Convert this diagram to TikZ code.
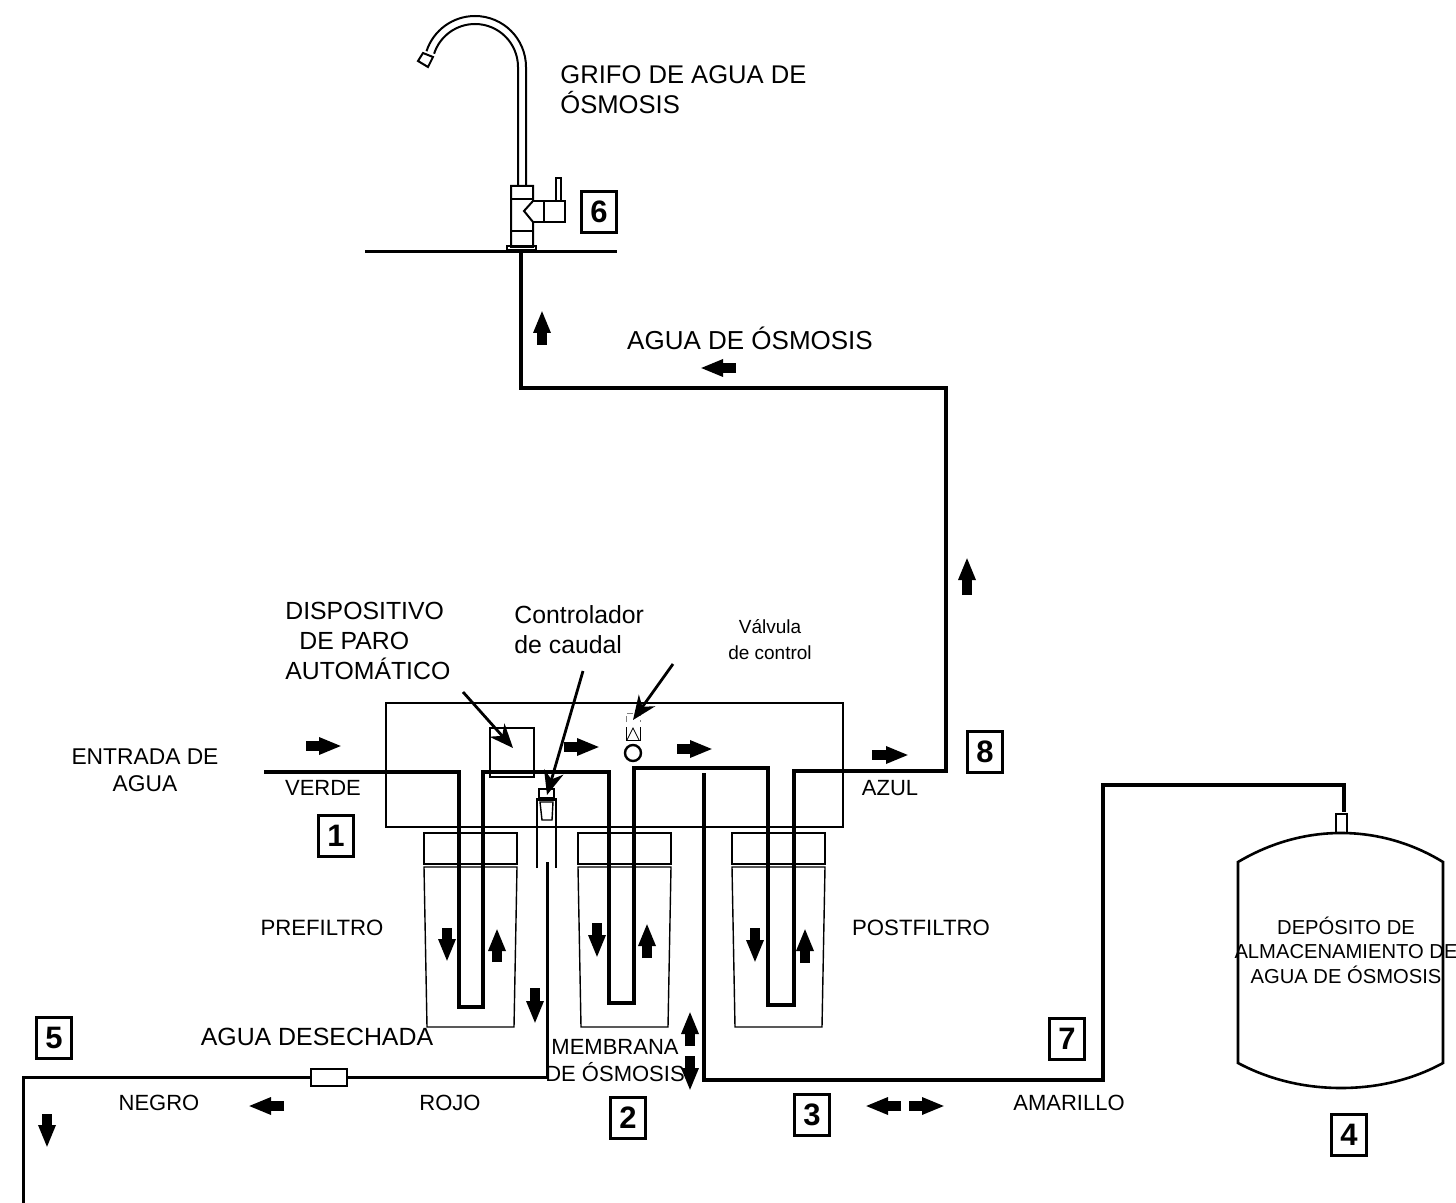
\documentclass[tikz,border=0pt]{standalone}
\usepackage{fontspec}
\setmainfont{Liberation Sans}
\usetikzlibrary{arrows.meta}
\tikzset{
  pipe/.style={line width=2pt,line join=miter},
  waste/.style={line width=1.5pt},
  thinline/.style={line width=0.7pt},
  faucet/.style={line width=1pt},
  flow/.style={line width=4.6pt,-{Triangle[length=11.5pt,width=8pt]}},
  callout/.style={line width=1.4pt,-{Stealth[length=12pt,width=10pt]}},
  numbox/.style={draw,line width=1.1pt,inner sep=0pt,minimum width=17.5pt,minimum height=20.5pt,font=\fontsize{15.5}{16}\selectfont\bfseries},
  txt/.style={inner sep=0pt,align=center,font=\fontsize{#1}{#1}\selectfont},
}
\begin{document}
\begin{tikzpicture}[x=0.5pt,y=-0.5pt]
    \useasboundingbox (0,0) rectangle (1456,1203);
    % faucet
    \draw[faucet] (518,186) -- (518,67) arc (0:-162:43);
    \draw[faucet] (526,186) -- (526,67) arc (0:-162:51);
    \draw[faucet] (418,61) -- (423,53) -- (433,57) -- (428,67) -- cycle;
    \draw[faucet] (533,201) -- (533,186) -- (511,186) -- (511,247) -- (533,247) -- (533,222) -- (524,211) -- cycle;
    \draw[faucet] (511,199) -- (533,199);
    \draw[faucet] (511,231) -- (533,231);
    \draw[faucet] (533,201) -- (565,201) -- (565,222) -- (533,222);
    \draw[faucet] (544,201) -- (544,222);
    \draw[faucet] (556,201) -- (556,178) -- (561,178) -- (561,201);
    \draw[faucet] (507,246) rectangle (536,250);
    \draw[line width=1.5pt] (365,252) -- (617,252);
    % housing and filters
    \draw[thinline] (386,703) rectangle (843,827);
    \foreach \fx in {424,578,732} {
      \draw[thinline] (\fx,833) rectangle (\fx+93,864);
      \draw[thinline] (\fx,867) -- (\fx+93,867) -- (\fx+90,1027) -- (\fx+3,1027) -- cycle;
    }
    % shut-off box, flow controller, check valve
    \draw[thinline] (490,728) rectangle (534,777);
    \draw[thinline] (539,789) rectangle (554,798);
    \draw[line width=1.1pt] (537,868) -- (537,799.5) -- (556,799.5) -- (556,868);
    \draw[thinline] (540,802) -- (553,802) -- (552,820) -- (542,820) -- cycle;
    \draw[line width=0.5pt,gray,densely dashed] (626,722) -- (626,713) -- (640,713) -- (640,722);
    \draw[line width=0.4pt] (626,727) -- (626,740) -- (640,740) -- (640,727);
    \draw[line width=0.4pt] (627,740) -- (633,728) -- (639,740);
    \draw[line width=1.2pt] (633,753) circle (8);
    % water lines
    \draw[pipe] (264,772) -- (459,772) -- (459,1007) -- (483,1007) -- (483,772) -- (609,772) -- (609,1003) -- (634,1003) -- (634,768) -- (768,768) -- (768,1005) -- (794,1005) -- (794,771) -- (946,771) -- (946,388) -- (521,388) -- (521,252);
    \draw[pipe] (704,773) -- (704,1080) -- (1103,1080) -- (1103,785) -- (1344,785) -- (1344,812);
    \draw[waste] (547,862) -- (547,1077) -- (347,1077);
    \draw[waste] (311,1077) -- (23,1077) -- (23,1203);
    \draw[thinline] (311,1069) rectangle (347,1086);
    % tank
    \draw[thinline] (1336,814) rectangle (1347,833);
    \draw[line width=1.3pt] (1238,862) .. controls (1270,843) and (1305,833) .. (1341,833) .. controls (1377,833) and (1412,843) .. (1443,862) -- (1443,1063) .. controls (1412,1080) and (1377,1088) .. (1341,1088) .. controls (1305,1088) and (1270,1080) .. (1238,1063) -- cycle;
    % flow arrows
    \draw[flow] (542,345) -- (542,310);
    \draw[flow] (736,368) -- (700,368);
    \draw[flow] (967,595) -- (967,557);
    \draw[flow] (306,746) -- (342,746);
    \draw[flow] (564,747) -- (600,747);
    \draw[flow] (677,749) -- (713,749);
    \draw[flow] (872,755) -- (909,755);
    \draw[flow] (447,928) -- (447,962);
    \draw[flow] (497,962) -- (497,928);
    \draw[flow] (597,923) -- (597,958);
    \draw[flow] (647,958) -- (647,923);
    \draw[flow] (755,928) -- (755,963);
    \draw[flow] (805,963) -- (805,928);
    \draw[flow] (535,988) -- (535,1024);
    \draw[flow] (690,1046) -- (690,1011);
    \draw[flow] (690,1056) -- (690,1091);
    \draw[flow] (47,1114) -- (47,1148);
    \draw[flow] (284,1106) -- (248,1106);
    \draw[flow] (901,1106) -- (865,1106);
    \draw[flow] (909,1106) -- (945,1106);
    % labels
    \node[txt=12.8,align=left,anchor=west] (grifo) at (560,90) {GRIFO DE AGUA DE\\[2.2pt]ÓSMOSIS};
    \node[txt=13] (osmosis) at (750,338) {AGUA DE ÓSMOSIS};
    \node[txt=12.4,align=left,anchor=west] (paro) at (285,641) {DISPOSITIVO\\[2.5pt]\hspace*{7pt}DE PARO\\[2.5pt]AUTOMÁTICO};
    \node[txt=12.4,align=left,anchor=west] (caudal) at (514,630) {Controlador\\[2.5pt]de caudal};
    \node[txt=9.5] (valvula) at (770,640) {Válvula\\[3.5pt]de control};
    \node[txt=11.4] (entrada) at (145,770) {ENTRADA DE\\[2pt]AGUA};
    \node[txt=11] (verde) at (323,788) {VERDE};
    \node[txt=11] (azul) at (890,788) {AZUL};
    \node[txt=11.1] (prefiltro) at (322,928) {PREFILTRO};
    \node[txt=11.1] (postfiltro) at (921,928) {POSTFILTRO};
    \node[txt=12.45] (desechada) at (317,1037) {AGUA DESECHADA};
    \node[txt=11] (membrana) at (615,1061) {MEMBRANA\\[2.5pt]DE ÓSMOSIS};
    \node[txt=11] (negro) at (159,1103) {NEGRO};
    \node[txt=11] (rojo) at (450,1103) {ROJO};
    \node[txt=11] (amarillo) at (1069,1103) {AMARILLO};
    \node[txt=10.1] (deposito) at (1346,950) {DEPÓSITO DE\\[2.2pt]ALMACENAMIENTO DE\\[2.2pt]AGUA DE ÓSMOSIS};
    % callouts
    \coordinate (paroFrom) at (463,692);
    \coordinate (paroTip) at (513,748);
    \coordinate (caudalFrom) at (583,671);
    \coordinate (caudalTip) at (547,795);
    \coordinate (valvulaFrom) at (673,664);
    \coordinate (valvulaTip) at (633,720);
    \draw[callout] (paroFrom) -- (paroTip);
    \draw[callout] (caudalFrom) -- (caudalTip);
    \draw[callout] (valvulaFrom) -- (valvulaTip);
    % number boxes
    \node[numbox] (box6) at (599,212) {6};
    \node[numbox] (box8) at (985,752) {8};
    \node[numbox] (box1) at (336,836) {1};
    \node[numbox] (box7) at (1067,1039) {7};
    \node[numbox] (box5) at (54,1038) {5};
    \node[numbox] (box2) at (628,1118) {2};
    \node[numbox] (box3) at (812,1115) {3};
    \node[numbox] (box4) at (1349,1135) {4};
\end{tikzpicture}
\end{document}
